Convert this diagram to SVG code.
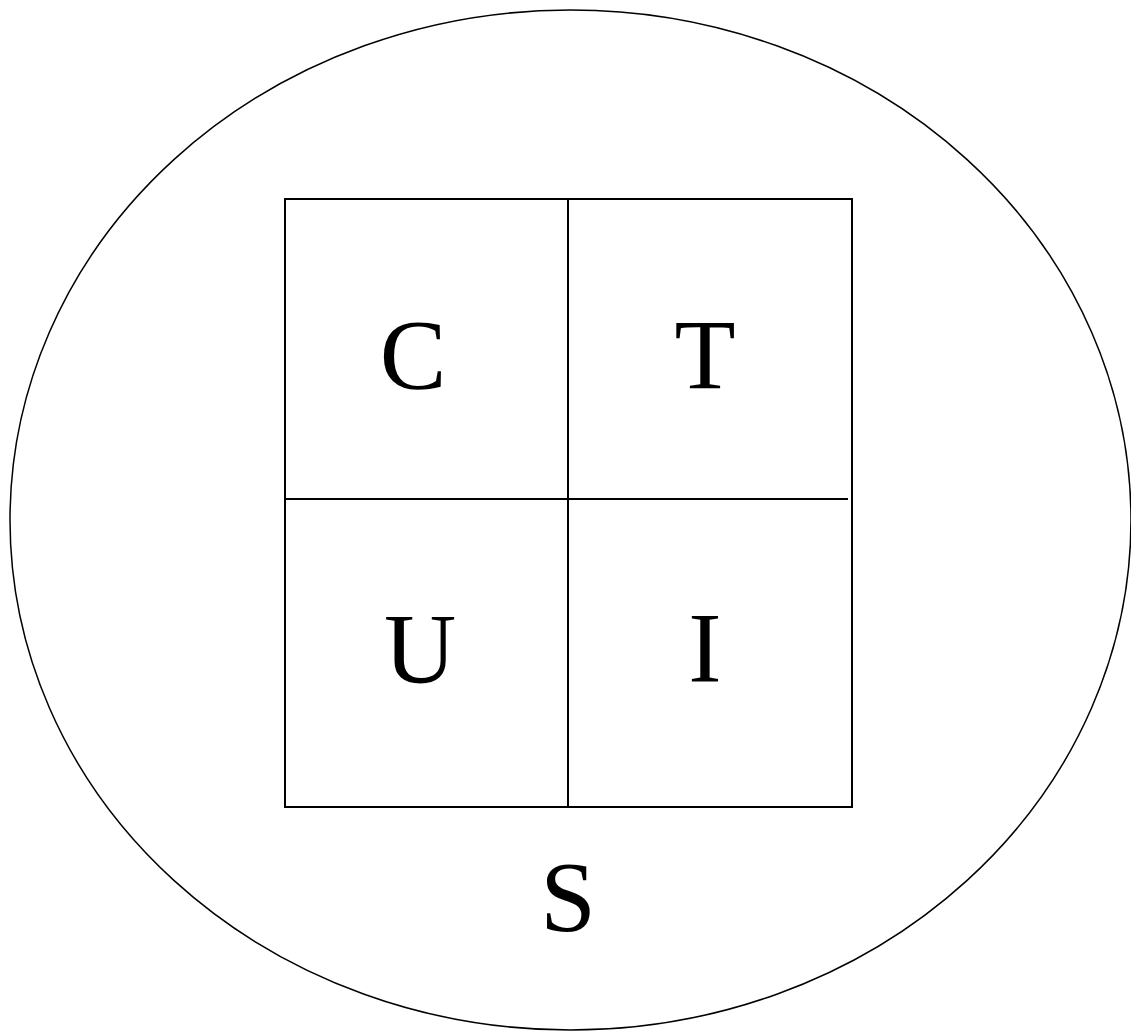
<svg xmlns="http://www.w3.org/2000/svg" width="1131" height="1032" viewBox="0 0 1131 1032">
<style>
.ln{fill:none;stroke:#000;stroke-width:2}
.el{fill:none;stroke:#000;stroke-width:1.5}
.lb{font-family:"Times New Roman",Times,"Liberation Serif",serif;font-size:100px;text-anchor:middle;fill:#000}
</style>
<rect width="1131" height="1032" fill="#fff"/>
<g id="S">
<ellipse class="el" cx="570.5" cy="520" rx="560.5" ry="510"/>
<text class="lb" x="568" y="930">S</text>
</g>
<g id="grid">
<rect class="ln" x="285" y="199" width="567" height="608"/>
</g>
<g id="connectors">
<line class="ln" x1="568" y1="199" x2="568" y2="807"/>
<line class="ln" x1="285" y1="499" x2="848" y2="499"/>
</g>
<g id="C"><text class="lb" x="413" y="388">C</text></g>
<g id="T"><text class="lb" x="705" y="388">T</text></g>
<g id="U"><text class="lb" x="420" y="682">U</text></g>
<g id="I"><text class="lb" x="705" y="681">I</text></g>
</svg>
